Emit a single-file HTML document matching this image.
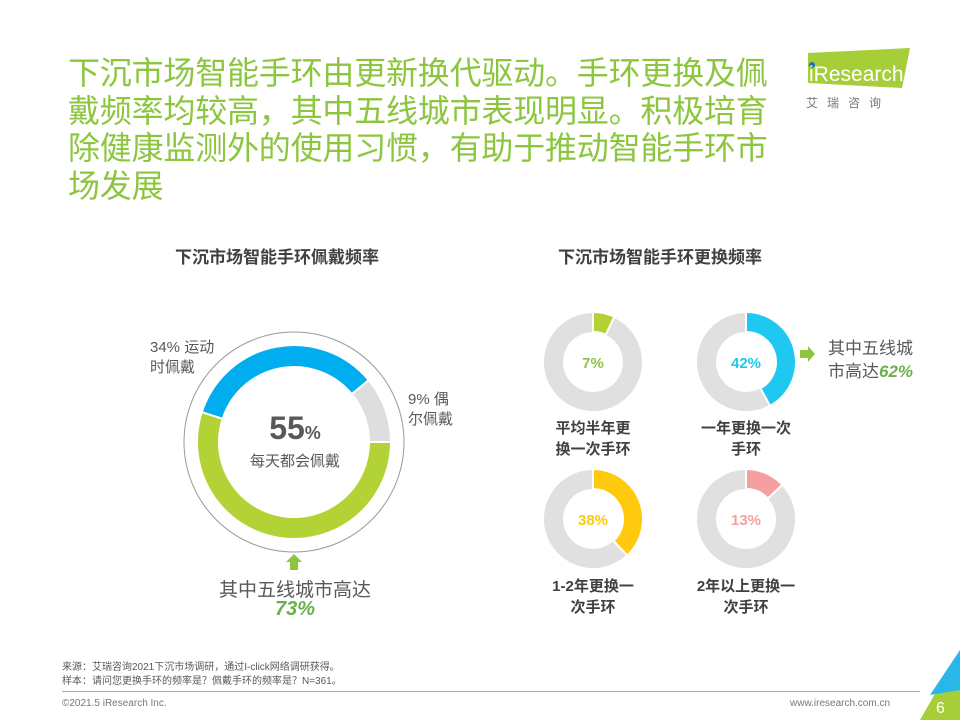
<!DOCTYPE html>
<html><head><meta charset="utf-8"><style>
body{margin:0;width:960px;height:720px;background:#fff;position:relative;overflow:hidden;font-family:"Liberation Sans","Noto Sans CJK SC",sans-serif;}
.a{position:absolute;}
#title{left:68px;top:55px;white-space:nowrap;font-size:32px;line-height:37.5px;color:#8cc63f;letter-spacing:-0.2px;}
.sub{font-size:17px;font-weight:bold;color:#404040;}
.lbl{font-size:15px;color:#595959;line-height:20px;}
.sl{font-size:15px;font-weight:bold;color:#404040;text-align:center;width:120px;line-height:21px;}
</style></head><body>
<div id="title" class="a">下沉市场智能手环由更新换代驱动。手环更换及佩<br>戴频率均较高，其中五线城市表现明显。积极培育<br>除健康监测外的使用习惯，有助于推动智能手环市<br>场发展</div>
<svg class="a" style="left:790px;top:45px" width="130" height="70">
<polygon points="18,8 120,3 112,43 18,38" fill="#a6ce39"/>
<circle cx="22" cy="20" r="3" fill="#1f6fb5"/>
<text x="19" y="36" font-size="21" fill="#fff" font-family="Liberation Sans">iResearch</text>
<text x="16" y="62" font-size="12" fill="#777" letter-spacing="9" font-family="Noto Sans CJK SC">艾瑞咨询</text>
</svg>
<div class="a sub" style="left:175px;top:243px">下沉市场智能手环佩戴频率</div>
<div class="a sub" style="left:558px;top:243px">下沉市场智能手环更换频率</div>
<svg class="a" style="left:0;top:0" width="960" height="720" id="charts"></svg>
<div class="a lbl" style="left:150px;top:338px">34% 运动<br>时佩戴</div>
<div class="a lbl" style="left:408px;top:390px">9% 偶<br>尔佩戴</div>
<div class="a" style="left:240px;top:410px;width:110px;text-align:center;color:#595959;font-size:32px;font-weight:bold;">55<span style="font-size:18px">%</span></div>
<div class="a" style="left:230px;top:450px;width:130px;text-align:center;color:#595959;font-size:15px;">每天都会佩戴</div>
<div class="a" style="left:200px;top:575px;width:190px;text-align:center;color:#595959;font-size:19px;">其中五线城市高达</div>
<div class="a" style="left:200px;top:598px;width:190px;text-align:center;color:#6ab04c;font-size:20px;font-weight:bold;font-style:italic;">73%</div>
<div class="a sl" style="left:533px;top:418px">平均半年更<br>换一次手环</div>
<div class="a sl" style="left:686px;top:418px">一年更换一次<br>手环</div>
<div class="a sl" style="left:533px;top:576px">1-2年更换一<br>次手环</div>
<div class="a sl" style="left:686px;top:576px">2年以上更换一<br>次手环</div>
<div class="a" style="left:828px;top:337px;color:#595959;font-size:17px;line-height:23px">其中五线城<br>市高达<b style="color:#6ab04c;font-style:italic">62%</b></div>
<div class="a" style="left:62px;top:661px;font-size:10px;color:#595959;line-height:14px">来源：艾瑞咨询2021下沉市场调研，通过I-click网络调研获得。<br>样本：请问您更换手环的频率是？佩戴手环的频率是？N=361。</div>
<div class="a" style="left:62px;top:691px;width:858px;height:1px;background:#aaa"></div>
<div class="a" style="left:62px;top:698px;font-size:10px;color:#777">©2021.5 iResearch Inc.</div>
<div class="a" style="left:790px;top:698px;font-size:10px;color:#777">www.iresearch.com.cn</div>
<svg class="a" style="left:900px;top:650px" width="60" height="70">
<polygon points="60,0 60,70 20,70" fill="#a6ce39"/><polygon points="60,0 60,40 30,45" fill="#29b6e8"/>
<text x="36" y="63" font-size="16" fill="#fff">6</text></svg>
<script>
const wearCats=['每天都会佩戴','运动时佩戴','偶尔佩戴'];
const wearVals=[55,34,11];
const wearColors=['#b2d235','#00aeef','#dedede'];
const replCats=['平均半年更换一次手环','一年更换一次手环','1-2年更换一次手环','2年以上更换一次手环'];
const replVals=[7,42,38,13];
const replColors=['#b2d235','#1ec8f0','#ffc90e','#f4a0a0'];
const replLabelColors=['#8cc63f','#1ec8f0','#ffc90e','#f4a0a0'];
const NS='http://www.w3.org/2000/svg';
const svg=document.getElementById('charts');
function pt(cx,cy,r,deg){const a=(deg-90)*Math.PI/180;return [cx+r*Math.cos(a),cy+r*Math.sin(a)];}
function arc(cx,cy,r0,r1,a0,a1){const l=(a1-a0)>180?1:0;const p1=pt(cx,cy,r1,a0),p2=pt(cx,cy,r1,a1),p3=pt(cx,cy,r0,a1),p4=pt(cx,cy,r0,a0);
return `M${p1}A${r1},${r1} 0 ${l} 1 ${p2}L${p3}A${r0},${r0} 0 ${l} 0 ${p4}Z`;}
function pathEl(d,fill){const p=document.createElementNS(NS,'path');p.setAttribute('d',d);p.setAttribute('fill',fill);p.setAttribute('stroke','#fff');p.setAttribute('stroke-width','2');svg.appendChild(p);return p;}
const oc=document.createElementNS(NS,'circle');oc.setAttribute('cx',294);oc.setAttribute('cy',442);oc.setAttribute('r',110);oc.setAttribute('fill','none');oc.setAttribute('stroke','#999');oc.setAttribute('stroke-width','1');


svg.appendChild(oc);
let tot=wearVals.reduce((a,b)=>a+b,0),ang=90;
wearVals.forEach((v,i)=>{const s=v/tot*360;const p=pathEl(arc(294,442,75,97,ang,ang+s),wearColors[i]);


ang+=s;});
const centers=[[593,362],[746,362],[593,519],[746,519]];
replVals.forEach((v,i)=>{const [cx,cy]=centers[i];
const bg=pathEl(arc(cx,cy,30,49,0,359.99),'#e0e0e0');bg.setAttribute('stroke','none');


const p=pathEl(arc(cx,cy,30,50,0,v/100*360),replColors[i]);


const t=document.createElementNS(NS,'text');t.setAttribute('x',cx);t.setAttribute('y',cy+6);t.setAttribute('text-anchor','middle');t.setAttribute('font-size','15');t.setAttribute('font-weight','bold');t.setAttribute('fill',replLabelColors[i]);t.setAttribute('font-family','Liberation Sans');t.textContent=v+'%';


svg.appendChild(t);});
const up=document.createElementNS(NS,'polygon');up.setAttribute('points','294,554 302,562 298,562 298,570 290,570 290,562 286,562');up.setAttribute('fill','#8cc63f');


svg.appendChild(up);
const ra=document.createElementNS(NS,'polygon');ra.setAttribute('points','800,350 808,350 808,346 815,354 808,362 808,358 800,358');ra.setAttribute('fill','#8cc63f');


svg.appendChild(ra);
</script>
</body></html>
